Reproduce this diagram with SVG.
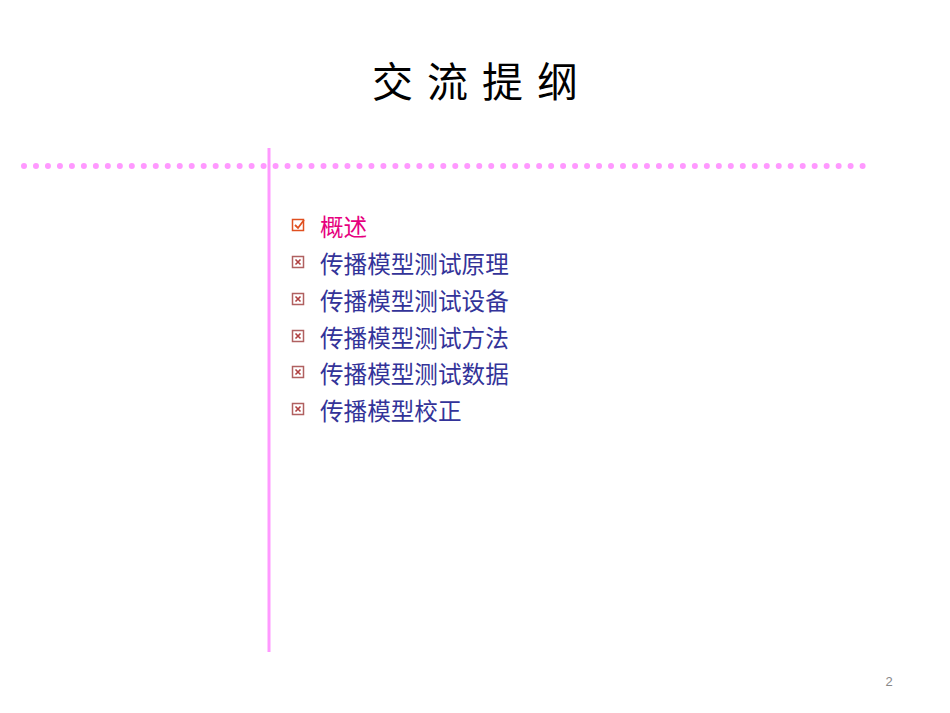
<svg xmlns="http://www.w3.org/2000/svg" width="950" height="713" viewBox="0 0 950 713">
<defs>
<style>
.t{font-family:"Liberation Sans","Noto Sans CJK SC",sans-serif;font-size:23.6px;fill:#333399}
.box{fill:none;stroke-width:1.5}
</style>
</defs>
<rect width="950" height="713" fill="#fff"/>
<text x="482" y="97" text-anchor="middle" font-family="'Noto Sans CJK SC',sans-serif" font-size="41" letter-spacing="14" fill="#000">交流提纲</text>
<line x1="24" y1="166" x2="870" y2="166" stroke="#ff99ff" stroke-width="6" stroke-linecap="round" stroke-dasharray="0 11.98"/>
<line x1="269" y1="148" x2="269" y2="652" stroke="#ff99ff" stroke-width="3"/>
<g id="item1">
<rect class="box" x="292.5" y="219.5" width="11" height="11" stroke="#e05020"/>
<path d="M295 225 l3 3 l6 -8" fill="none" stroke="#e05020" stroke-width="1.8"/>
<text class="t" x="320" y="236" style="fill:#e6007e">概述</text>
</g>
<g id="item2"><rect class="box" x="292.5" y="256.5" width="11" height="11" stroke="#b06060"/><path d="M295.5 259.5l5 5m0-5l-5 5" stroke="#b04040" stroke-width="1.6"/><text class="t" x="320" y="273">传播模型测试原理</text></g>
<g id="item3"><rect class="box" x="292.5" y="293.5" width="11" height="11" stroke="#b06060"/><path d="M295.5 296.5l5 5m0-5l-5 5" stroke="#b04040" stroke-width="1.6"/><text class="t" x="320" y="310">传播模型测试设备</text></g>
<g id="item4"><rect class="box" x="292.5" y="330.5" width="11" height="11" stroke="#b06060"/><path d="M295.5 333.5l5 5m0-5l-5 5" stroke="#b04040" stroke-width="1.6"/><text class="t" x="320" y="347">传播模型测试方法</text></g>
<g id="item5"><rect class="box" x="292.5" y="366.5" width="11" height="11" stroke="#b06060"/><path d="M295.5 369.5l5 5m0-5l-5 5" stroke="#b04040" stroke-width="1.6"/><text class="t" x="320" y="383">传播模型测试数据</text></g>
<g id="item6"><rect class="box" x="292.5" y="403.5" width="11" height="11" stroke="#b06060"/><path d="M295.5 406.5l5 5m0-5l-5 5" stroke="#b04040" stroke-width="1.6"/><text class="t" x="320" y="420">传播模型校正</text></g>
<text x="889" y="686" text-anchor="middle" font-family="'Liberation Sans',sans-serif" font-size="13" fill="#888">2</text>
</svg>
